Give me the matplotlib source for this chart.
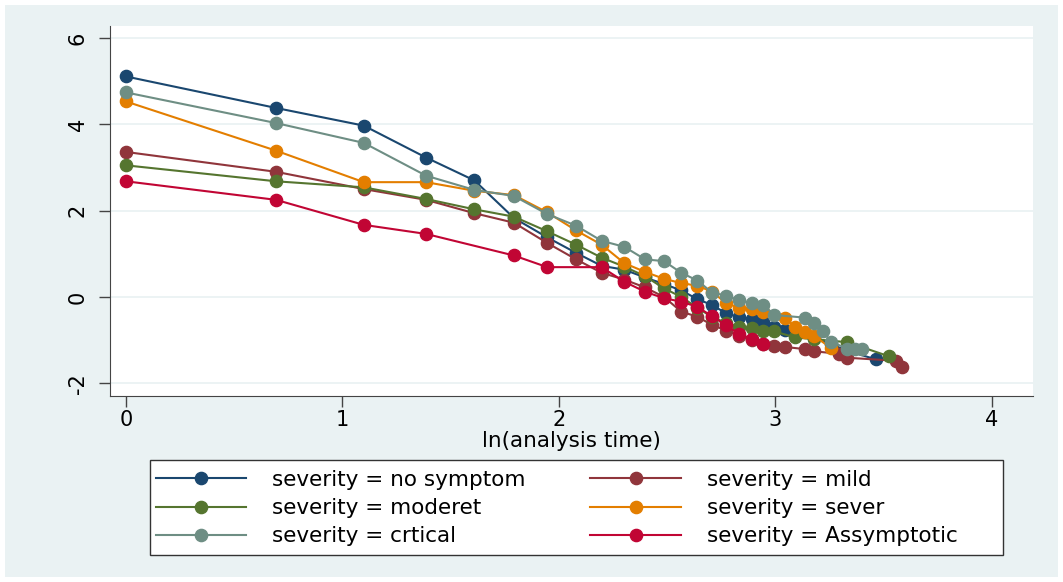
import numpy as np
import matplotlib
matplotlib.use("Agg")
import matplotlib.pyplot as plt
from matplotlib.patches import Rectangle

# failure times and -ln(-ln S(t)) values, one pair per group
t_nosym = [1, 2, 3, 4, 5, 6, 7, 8, 9, 10, 11, 12, 13, 14, 15, 16, 17, 18, 19, 20, 21, 22, 24, 26, 28, 32]
y_nosym = [5.11, 4.38, 3.97, 3.23, 2.70, 1.83, 1.38, 1.02, 0.72, 0.63, 0.45, 0.30, 0.15, -0.05, -0.19, -0.38,
           -0.47, -0.51, -0.58, -0.69, -0.77, -0.85, -0.95, -1.10, -1.25, -1.45]

t_mild = [1, 2, 3, 4, 5, 6, 7, 8, 9, 10, 11, 12, 13, 14, 15, 16, 17, 18, 19, 20, 21, 23, 24, 27, 28, 35, 36]
y_mild = [3.36, 2.90, 2.50, 2.25, 1.94, 1.72, 1.25, 0.87, 0.56, 0.40, 0.22, 0.00, -0.34, -0.46, -0.65, -0.78,
          -0.90, -1.00, -1.08, -1.13, -1.16, -1.21, -1.26, -1.32, -1.41, -1.48, -1.62]

t_mod = [1, 2, 3, 4, 5, 6, 7, 8, 9, 10, 11, 12, 13, 14, 15, 16, 17, 18, 19, 20, 22, 24, 28, 34]
y_mod = [3.05, 2.68, 2.54, 2.27, 2.03, 1.86, 1.52, 1.21, 0.91, 0.70, 0.48, 0.20, 0.00, -0.25, -0.47, -0.60,
         -0.70, -0.73, -0.78, -0.80, -0.94, -0.98, -1.05, -1.38]

t_sev = [1, 2, 3, 4, 5, 6, 7, 8, 9, 10, 11, 12, 13, 14, 15, 16, 17, 18, 19, 21, 22, 23, 24, 26]
y_sev = [4.53, 3.39, 2.66, 2.66, 2.46, 2.36, 1.96, 1.54, 1.21, 0.78, 0.58, 0.42, 0.32, 0.26, 0.12, -0.15,
         -0.25, -0.28, -0.34, -0.49, -0.70, -0.82, -0.90, -1.19]

t_crit = [1, 2, 3, 4, 5, 6, 7, 8, 9, 10, 11, 12, 13, 14, 15, 16, 17, 18, 19, 20, 23, 24, 25, 26, 28, 29, 30]
y_crit = [4.74, 4.03, 3.57, 2.81, 2.48, 2.34, 1.92, 1.65, 1.30, 1.16, 0.87, 0.83, 0.56, 0.38, 0.10, 0.03,
          -0.08, -0.14, -0.19, -0.42, -0.48, -0.61, -0.80, -1.04, -1.20, -1.20, -1.20]

t_asym = [1, 2, 3, 4, 6, 7, 9, 10, 11, 12, 13, 14, 15, 16, 17, 18, 19]
y_asym = [2.68, 2.25, 1.67, 1.46, 0.96, 0.69, 0.69, 0.35, 0.12, -0.03, -0.11, -0.23, -0.45, -0.66, -0.86,
          -0.98, -1.08]

labels = ["severity = no symptom", "severity = mild", "severity = moderet",
          "severity = sever", "severity = crtical", "severity = Assymptotic"]
colors = ["#1A476F", "#90353B", "#55752F", "#E37E00", "#6E8E84", "#C10534"]
series = [(t_nosym, y_nosym), (t_mild, y_mild), (t_mod, y_mod),
          (t_sev, y_sev), (t_crit, y_crit), (t_asym, y_asym)]

bg = "#EAF2F3"
W, H = 1063, 582
fig = plt.figure(figsize=(10.63, 5.82), dpi=100, facecolor="white")
# light blue-grey graph region with a thin white margin
fig.patches.append(Rectangle((5 / W, 5 / H), 1053 / W, 572 / H, transform=fig.transFigure,
                             facecolor=bg, edgecolor="none", zorder=-10))
ax = fig.add_axes([110 / W, 1 - 395.7 / H, 923 / W, 369.7 / H], zorder=2)
ax.set_facecolor("white")

handles = []
for (t, y), lab, c in zip(series, labels, colors):
    h, = ax.plot(np.log(t), y, color=c, lw=1.5, marker="o", markersize=8.8,
                 markeredgecolor=c, label=lab)
    handles.append(h)

ax.set_xlim(-0.074, 4.19)
ax.set_ylim(-2.29, 6.28)
ax.set_xticks([0, 1, 2, 3, 4])
ax.set_yticks([-2, 0, 2, 4, 6])
ax.set_yticklabels(["-2", "0", "2", "4", "6"], rotation=90, va="center")
ax.tick_params(axis="both", labelsize=15, length=8, width=1, color="#444444", direction="out")
ax.tick_params(axis="x", pad=2)
ax.tick_params(axis="y", pad=8)
ax.grid(axis="y", color=bg, lw=1.3)
ax.set_axisbelow(True)
for s in ["top", "right"]:
    ax.spines[s].set_visible(False)
for s in ["left", "bottom"]:
    ax.spines[s].set_color("#444444")
ax.set_xlabel("ln(analysis time)", fontsize=15.5, labelpad=1)

# legend box drawn separately so its width matches the original
fig.patches.append(Rectangle((150 / W, 1 - 555 / H), 853 / W, 95 / H, transform=fig.transFigure,
                             facecolor="white", edgecolor="#333333", lw=1, zorder=3))
order = [0, 2, 4, 1, 3, 5]
leg = fig.legend([handles[i] for i in order], [labels[i] for i in order],
                 loc="upper left", bbox_to_anchor=(156 / W, 1 - 470 / H),
                 ncol=2, fontsize=15.5, handlelength=4.2, handletextpad=1.2,
                 columnspacing=3.0, borderaxespad=0, frameon=False,
                 labelspacing=0.38, borderpad=0.0)
leg.set_zorder(4)

fig.savefig("out.png", dpi=100, facecolor=fig.get_facecolor())
